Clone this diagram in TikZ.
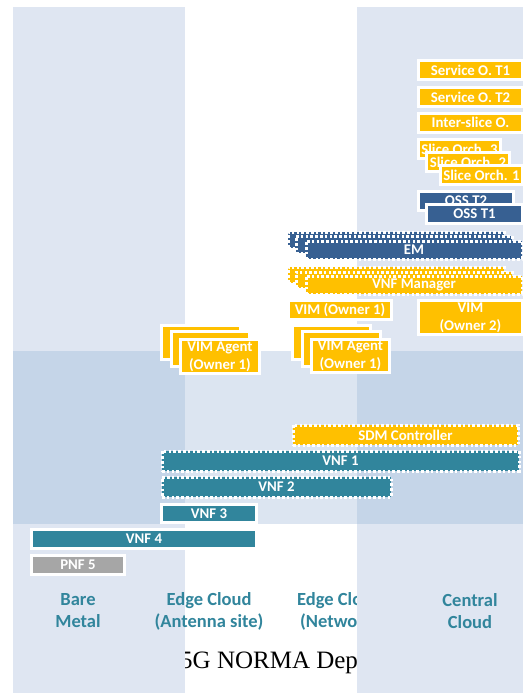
\documentclass[tikz,border=0pt]{standalone}
\usepackage{fontspec}
\setmainfont{Carlito}
\newfontfamily\capfont{Liberation Serif}
\definecolor{yel}{HTML}{FFC000}
\definecolor{tealc}{HTML}{31859C}
\definecolor{bluec}{HTML}{376092}
\definecolor{greyc}{HTML}{A6A6A6}
\definecolor{bandc}{HTML}{DFE6F2}
\definecolor{crossc}{HTML}{C5D5E8}
\definecolor{midc}{HTML}{DCE5F1}
\tikzset{
  solidbox/.style={draw=white,line width=3pt,inner sep=0pt,text=white,align=center,
    font=\bfseries\fontsize{14.8}{18}\selectfont},
  dashbox/.style={draw=white,line width=3pt,dash pattern=on 2.6pt off 2.2pt,inner sep=0pt,text=white,align=center,
    font=\bfseries\fontsize{14.8}{18}\selectfont},
  collabel/.style={text=tealc,align=center,font=\bfseries\fontsize{18.5}{22}\selectfont,inner sep=0pt},
  cliplabel/.style={text=tealc,font=\bfseries\fontsize{18.5}{22}\selectfont,inner sep=0pt,anchor=base west},
  caplabel/.style={font=\capfont\fontsize{25}{25}\selectfont,inner sep=0pt,anchor=base west}
}
% fill edges: name, x0, y0, x1, y1, style, text
\newcommand{\sbx}[7]{\node[solidbox,fill=#6,minimum width={#4-#2+3},minimum height={#5-#3+3}] (#1) at ({(#2+#4)/2},{(#3+#5)/2}) {#7};}
% outer edges of a dotted box
\newcommand{\dbx}[7]{\node[dashbox,fill=#6,minimum width={#4-#2-2},minimum height={#5-#3-2}] (#1) at ({(#2+#4)/2},{(#3+#5)/2}) {#7};}
\begin{document}
\begin{tikzpicture}[x=1pt,y=-1pt]
\useasboundingbox (0,0) rectangle (523,693);
\fill[white] (0,0) rectangle (523,693);
% texts that the bands cut off
\node[caplabel] (cap) at (180,668) {5G NORMA Dep};
\node[cliplabel] (ec2a) at (297,605) {Edge Clo};
\node[cliplabel] (ec2b) at (300,627) {(Netwo};
% bands
\fill[bandc] (13,7) rectangle (185,693);
\fill[bandc] (357,7) rectangle (523,693);
\fill[midc] (185,351) rectangle (357,524);
\fill[crossc] (13,351) rectangle (185,524);
\fill[crossc] (357,351) rectangle (523,524);
% column labels
\node[collabel] (bare) at (78,611) {Bare\\Metal};
\node[collabel] (ec1) at (209,611) {Edge Cloud\\(Antenna site)};
\node[collabel] (cc) at (470,611) {Central\\Cloud};
% orchestrators
\sbx{s1}{420}{62}{521}{78}{yel}{Service O. T1}
\sbx{s2}{420}{89}{521}{105}{yel}{Service O. T2}
\sbx{is}{420}{115}{521}{130.5}{yel}{Inter-slice O.}
\sbx{so3}{420}{141}{499}{157}{yel}{Slice Orch. 3}
\sbx{so2}{428}{154}{508}{170}{yel}{Slice Orch. 2}
\sbx{so1}{442}{167}{521}{183}{yel}{Slice Orch. 1}
\sbx{ot2}{420}{193}{512}{209}{bluec}{OSS T2}
\sbx{ot1}{428}{206}{521}{222}{bluec}{OSS T1}
% EM
\dbx{em3}{287}{231}{505}{249}{bluec}{}
\dbx{em2}{295}{235}{513}{254}{bluec}{}
\dbx{em1}{305}{240}{523}{260}{bluec}{EM}
% VNF manager
\dbx{vm3}{287}{266}{505}{284}{yel}{}
\dbx{vm2}{295}{271}{513}{289}{yel}{}
\dbx{vm1}{305}{275}{523}{295}{yel}{VNF Manager}
% VIM
\sbx{vo1}{290}{302}{390}{318}{yel}{VIM (Owner 1)}
\sbx{vo2}{420}{302}{521}{333}{yel}{VIM\\(Owner 2)}
% VIM agents, middle
\sbx{ma3}{294}{327}{369}{358}{yel}{}
\sbx{ma2}{304}{333}{379}{365}{yel}{}
\sbx{ma1}{313}{341}{388}{371}{yel}{VIM Agent\\(Owner 1)}
% VIM agents, left
\sbx{la3}{163}{327}{239}{358}{yel}{}
\sbx{la2}{173}{333}{248}{365}{yel}{}
\sbx{la1}{182}{341}{258}{372}{yel}{VIM Agent\\(Owner 1)}
% network functions
\dbx{sdm}{292}{424}{519}{446}{yel}{SDM Controller}
\dbx{v1}{161}{450}{520}{472}{tealc}{VNF 1}
\dbx{v2}{161}{476}{392}{498}{tealc}{VNF 2}
\sbx{v3}{163}{506}{255}{521}{tealc}{VNF 3}
\sbx{v4}{33}{531}{255}{547}{tealc}{VNF 4}
\sbx{p5}{33}{557}{123}{573}{greyc}{PNF 5}
\end{tikzpicture}
\end{document}
